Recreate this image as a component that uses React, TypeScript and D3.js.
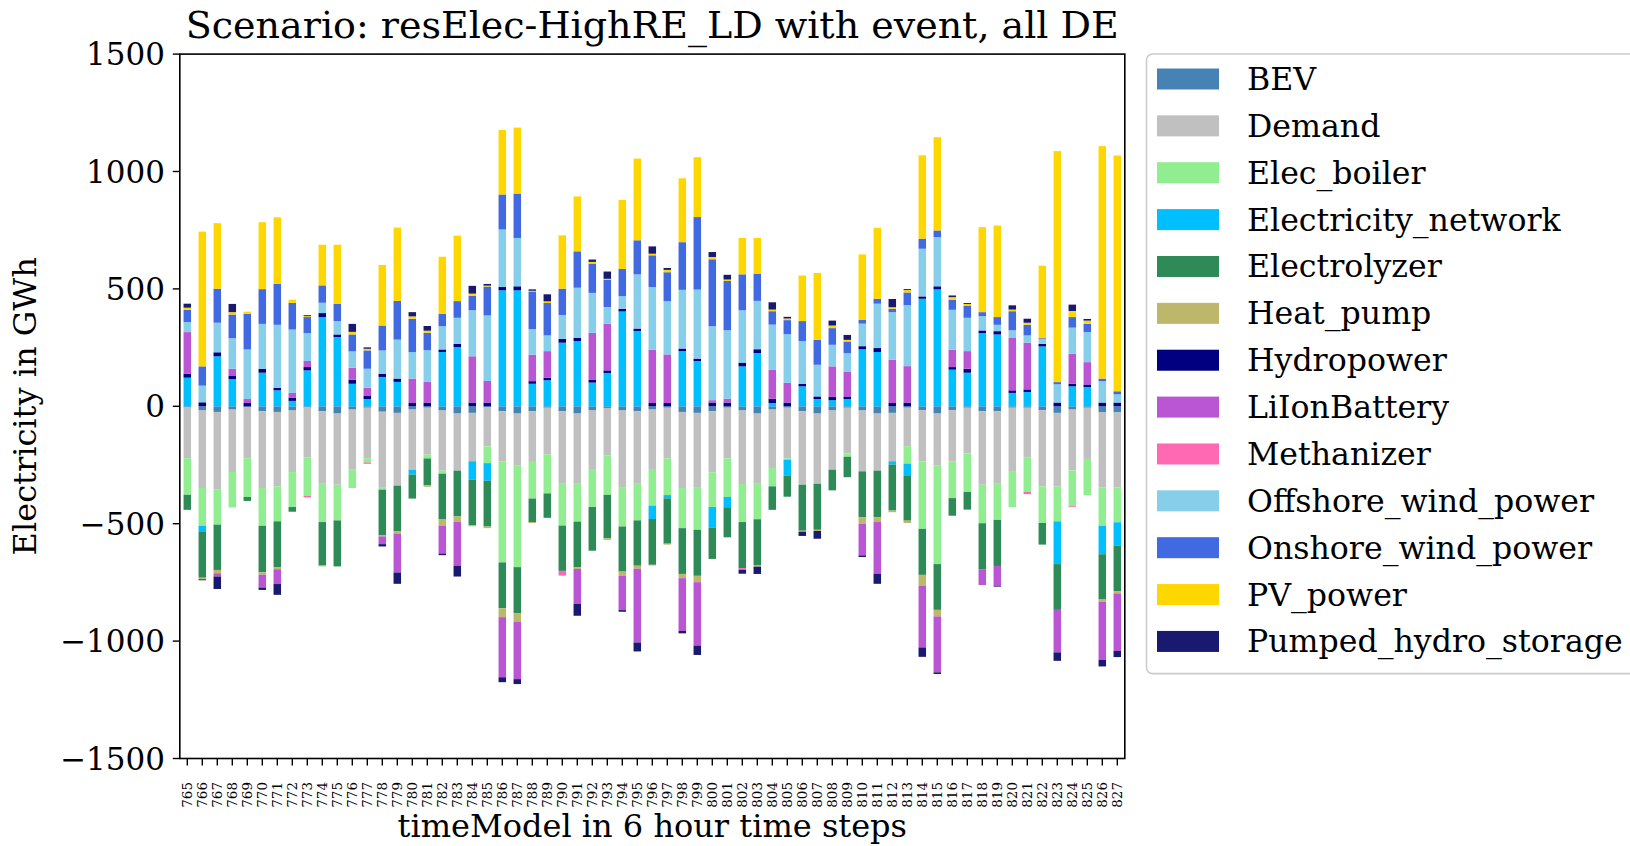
import React from "react";
import * as d3 from "d3";

// Time steps (6-hour resolution)
const steps: string[] = d3.range(765, 828).map(String);

const seriesNames: string[] = [
  "BEV", "Demand", "Elec_boiler", "Electricity_network", "Electrolyzer", "Heat_pump",
  "Hydropower", "LiIonBattery", "Methanizer", "Offshore_wind_power",
  "Onshore_wind_power", "PV_power", "Pumped_hydro_storage",
];

const seriesColors: string[] = [
  "#4682B4", "#C0C0C0", "#90EE90", "#00BFFF", "#2E8B57", "#BDB76B",
  "#000080", "#BA55D3", "#FF69B4", "#87CEEB", "#4169E1", "#FFD700", "#191970",
];

// Electricity balance per technology in GWh (positive = supply, negative = use)
const BEV = [-5, -18, -24, -14, -5, -21, -24, -18, -5, -21, -31, -14, -6, -23, -28, -14, -6, -18, -31, -28, -5, -21, -31, -21, -6, -21, -31, -18, -7, -18, -21, -14, -6, -24, -28, -21, -6, -18, -31, -14, -6, -21, -31, -18, -6, -18, -31, -28, -6, -17, -31, -17, -6, -21, -21, -6, -6, -17, -28, -14, -6, -26, -26];
const Demand = [-216, -330, -329, -266, -216, -327, -317, -262, -213, -306, -303, -256, -215, -321, -310, -256, -199, -256, -243, -206, -166, -213, -220, -216, -199, -306, -296, -249, -202, -326, -309, -253, -216, -324, -316, -260, -216, -313, -296, -249, -216, -313, -299, -252, -195, -259, -243, -206, -164, -218, -220, -218, -195, -313, -309, -273, -211, -324, -313, -259, -218, -319, -319];
const Elec_boiler = [-156, -161, -151, -151, -165, -161, -149, -149, -164, -166, -152, -78, -18, -11, 0, 0, -17, -13, 0, 0, -71, -431, -434, -156, -166, -181, -164, -162, -168, -168, -156, -156, -156, -171, -182, -148, -164, -162, -154, -78, -5, 0, 0, 0, -14, 0, 0, 0, -74, -287, -421, -156, -164, -164, -154, -151, -148, -156, -149, -151, -155, -164, -149];
const Electricity_network = [122, -26, 213, 116, 0, 143, 68, 23, 153, 380, 295, 96, 31, 125, 104, -21, 0, 231, 252, -78, -75, 494, 494, 96, 111, 271, 278, 101, 142, 404, 321, -57, -14, 235, 193, -87, -44, 170, 227, 14, -68, 85, 31, 26, 31, 243, 231, -14, -50, 458, 498, 156, 143, 312, 306, 57, 61, 255, -182, 85, 82, -121, -100];
const Electrolyzer = [-64, -195, -193, 0, -17, -198, -195, -20, 0, -185, -196, 0, 0, -195, -195, -102, -114, -193, -195, -195, -195, -195, -196, -100, -104, -193, -195, -186, -185, -192, -193, -195, -193, -195, -196, -134, -128, -196, -195, -100, -90, -196, -196, -88, -87, -195, -198, -196, -193, -196, -195, -75, -75, -196, -196, 0, 0, -92, -195, 0, 0, -193, -193];
const Heat_pump = [0, -7, -14, 0, 0, -10, -9, 0, 0, -4, 0, 0, 0, -4, -9, 0, -7, -28, -24, -4, -7, -38, -36, -4, 0, 0, -7, 0, -7, -17, -13, -3, -4, -18, -27, 0, 0, 0, -7, 0, 0, -4, -5, 0, 0, -28, -21, -7, -10, -46, -28, 0, 0, 0, 0, 0, 0, 0, 0, 0, 0, -9, -10];
const Hydropower = [17, 17, 17, 13, 14, 17, 11, 14, 14, 17, 11, 17, 13, 14, 14, 14, 16, 11, 14, 16, 16, 14, 17, 11, 11, 16, 14, 13, 11, 11, 10, 14, 14, 11, 10, 16, 16, 16, 16, 18, 16, 11, 11, 14, 11, 13, 17, 14, 16, 10, 13, 11, 17, 11, 14, 11, 11, 11, 16, 11, 11, 16, 16];
const LiIonBattery = [177, 0, -14, 31, 17, -55, -63, 20, 26, 0, 0, 51, 35, -33, -166, 104, 88, -119, -186, 197, 92, -256, -245, 113, 113, 0, -149, 199, 199, -147, -314, 227, 207, -225, -270, 10, 16, 0, 0, 123, 84, 0, 0, 130, 106, -135, -220, 184, 155, -263, -238, 74, 75, -67, -84, 223, 199, 0, -181, 128, 95, -248, -245];
const Methanizer = [0, 0, 0, 0, 0, 0, 0, 0, -6, 0, 0, 0, -6, 0, 0, 0, 0, 0, 0, 0, 0, 0, 0, 0, 0, -20, 0, 0, 0, 0, 0, 0, 0, 0, 0, 0, 0, -7, 0, 0, 0, 0, 0, 0, 0, 0, 0, 0, 0, 0, 0, 0, 0, 0, 0, 0, -9, 0, 0, -4, 0, 0, 0];
const Offshore_wind_power = [43, 71, 126, 130, 211, 191, 268, 270, 119, 44, 57, 70, 81, 99, 166, 113, 135, 99, 111, 196, 279, 245, 206, 109, 67, 102, 213, 170, 71, 54, 231, 267, 227, 250, 294, 315, 292, 223, 206, 193, 207, 182, 135, 92, 78, 96, 189, 203, 260, 203, 210, 170, 142, 61, 27, 33, 31, 20, 78, 111, 128, 91, 35];
const Onshore_wind_power = [52, 82, 145, 101, 152, 148, 174, 113, 68, 74, 74, 72, 78, 106, 165, 142, 74, 52, 71, 61, 123, 149, 189, 160, 138, 112, 155, 125, 116, 116, 145, 135, 123, 203, 309, 285, 210, 153, 116, 57, 60, 85, 106, 71, 50, 17, 21, 14, 54, 43, 28, 43, 52, 17, 33, 81, 45, 4, 9, 45, 35, 11, 13];
const PV_power = [9, 574, 279, 10, 9, 285, 284, 14, 4, 173, 251, 11, 7, 258, 312, 10, 9, 244, 279, 10, 4, 275, 281, 3, 7, 227, 234, 7, 4, 294, 348, 7, 10, 272, 255, 10, 6, 155, 152, 7, 7, 194, 285, 11, 7, 278, 302, 7, 10, 355, 397, 11, 7, 362, 390, 7, 9, 309, 984, 26, 14, 990, 1004];
const Pumped_hydro_storage = [17, -4, -53, 35, 0, -10, -46, 0, 4, 0, 0, 34, 6, -10, -48, 18, 20, -7, -46, 33, 7, -21, -21, 6, 30, 0, -50, 10, 31, -7, -38, 31, 8, -10, -40, 21, 20, -17, -31, 31, 7, -18, -33, 21, 21, -7, -43, 35, 4, -40, -7, 7, 4, 0, -4, 18, 17, 0, -36, 27, 7, -28, -26];

const seriesValues: number[][] = [
  BEV, Demand, Elec_boiler, Electricity_network, Electrolyzer, Heat_pump,
  Hydropower, LiIonBattery, Methanizer, Offshore_wind_power,
  Onshore_wind_power, PV_power, Pumped_hydro_storage,
];

const yTicks: number[] = [-1500, -1000, -500, 0, 500, 1000, 1500];

const titleText = "Scenario: resElec-HighRE_LD with event, all DE";
const xLabel = "timeModel in 6 hour time steps";
const yLabel = "Electricity in GWh";

const W = 1630;
const H = 846;
const plot = { left: 179.8, right: 1124.8, top: 54.1, bottom: 758.5 };
const FONT = "'DejaVu Serif', serif";

export default function App() {
  const rows = steps.map((s, i) => {
    const r: Record<string, number | string> = { step: s };
    seriesNames.forEach((n, k) => (r[n] = seriesValues[k][i]));
    return r;
  });

  const stacked = d3
    .stack<Record<string, number | string>>()
    .keys(seriesNames)
    .value((d, key) => d[key] as number)
    .offset(d3.stackOffsetDiverging)(rows);

  const x = d3
    .scaleBand<string>()
    .domain(steps)
    .range([plot.left, plot.right])
    .paddingInner(0.5)
    .paddingOuter(0.25);

  const y = d3.scaleLinear().domain([-1500, 1500]).range([plot.bottom, plot.top]);

  const legendRowY = (i: number) => 79 + 46.87 * i;

  return (
    <svg
      width={W}
      height={H}
      style={{ position: "absolute", left: 0, top: 0, background: "#fff" }}
      fontFamily={FONT}
    >
      <rect x={0} y={0} width={W} height={H} fill="#fff" />

      {/* stacked bars */}
      <g>
        {stacked.map((layer, k) => (
          <g key={seriesNames[k]} fill={seriesColors[k]}>
            {layer.map((seg, i) => {
              const y0 = y(seg[0]);
              const y1 = y(seg[1]);
              const h = Math.abs(y0 - y1);
              if (h <= 0) return null;
              return (
                <rect
                  key={i}
                  x={x(steps[i])}
                  width={x.bandwidth()}
                  y={Math.min(y0, y1)}
                  height={h}
                />
              );
            })}
          </g>
        ))}
      </g>

      {/* frame */}
      <rect
        x={plot.left}
        y={plot.top}
        width={plot.right - plot.left}
        height={plot.bottom - plot.top}
        fill="none"
        stroke="#000"
        strokeWidth={1.6}
      />

      {/* y axis */}
      <g>
        {yTicks.map((t) => (
          <g key={t}>
            <line x1={plot.left - 7} x2={plot.left} y1={y(t)} y2={y(t)} stroke="#000" strokeWidth={1.4} />
            <text
              x={165}
              y={y(t)}
              textAnchor="end"
              dominantBaseline="central"
              fontSize={31}
              fill="#000"
            >
              {t < 0 ? `\u2212${Math.abs(t)}` : `${t}`}
            </text>
          </g>
        ))}
      </g>

      {/* x axis */}
      <g>
        {steps.map((s) => {
          const cx = (x(s) as number) + x.bandwidth() / 2;
          return (
            <g key={s}>
              <line x1={cx} x2={cx} y1={plot.bottom} y2={plot.bottom + 7} stroke="#000" strokeWidth={1.4} />
              <text
                transform={`translate(${cx},${782}) rotate(-90)`}
                textAnchor="end"
                dominantBaseline="central"
                fontSize={13.5}
                fill="#000"
              >
                {s}
              </text>
            </g>
          );
        })}
      </g>

      {/* axis labels and title */}
      <text x={(plot.left + plot.right) / 2} y={837} textAnchor="middle" fontSize={32} fill="#000">
        {xLabel}
      </text>
      <text
        transform={`translate(36,${(plot.top + plot.bottom) / 2}) rotate(-90)`}
        textAnchor="middle"
        fontSize={32}
        fill="#000"
      >
        {yLabel}
      </text>
      <text x={(plot.left + plot.right) / 2} y={38} textAnchor="middle" fontSize={38} fill="#000">
        {titleText}
      </text>

      {/* legend */}
      <g>
        <rect
          x={1146.5}
          y={54}
          width={520}
          height={619.6}
          rx={6}
          fill="#fff"
          fillOpacity={0.8}
          stroke="#cccccc"
          strokeWidth={1.6}
        />
        {seriesNames.map((n, i) => (
          <g key={n}>
            <rect x={1157} y={legendRowY(i) - 10.5} width={62} height={21} fill={seriesColors[i]} />
            <text x={1247} y={legendRowY(i)} dominantBaseline="central" fontSize={31.6} fill="#000">
              {n}
            </text>
          </g>
        ))}
      </g>
    </svg>
  );
}
